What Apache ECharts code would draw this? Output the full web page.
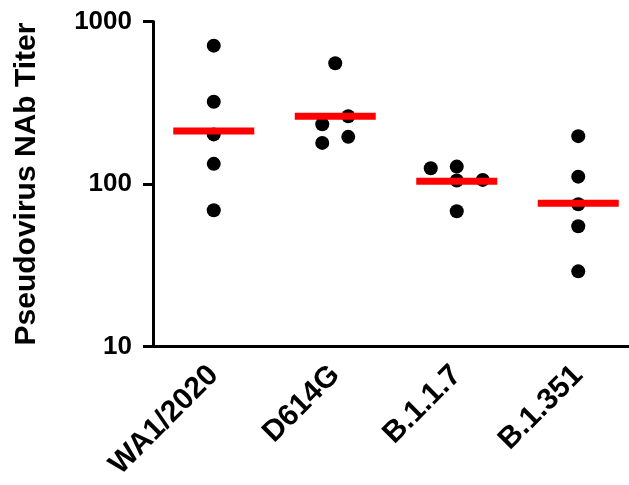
<!DOCTYPE html>
<html>
<head>
<meta charset="utf-8">
<script src="https://cdn.jsdelivr.net/npm/echarts@6/dist/echarts.min.js"></script>
<style>
  html, body { margin: 0; padding: 0; background: #fff; }
  #chart { width: 629px; height: 485px; }
</style>
</head>
<body>
<div id="chart"></div>
<script>
// data
var categories = ['WA1/2020', 'D614G', 'B.1.1.7', 'B.1.351'];
var wa1Titers = [710, 321, 202, 133, 69];
var d614gTiters = [553, 261, 233, 195, 179];
var b117Titers = [125, 128, 105, 106, 68];
var b1351Titers = [197, 111, 75, 55, 29];
var medianTiters = [212, 261, 104, 76];
var yTicks = [10, 100, 1000];

// horizontal spread of the dots inside each column (pixels)
var jitterPx = [
  [0, 0, 0, 0, 0],
  [0, 13, -13, 13, -13],
  [-26, 0, 0, 26, 0],
  [0, 0, 0, 0, 0]
];

var font = '"Liberation Sans", Arial, sans-serif';
var groups = [wa1Titers, d614gTiters, b117Titers, b1351Titers];
var points = [];
groups.forEach(function (vals, i) {
  vals.forEach(function (v, j) {
    points.push({ value: [i, v], symbolOffset: [jitterPx[i][j], 0] });
  });
});
var medians = medianTiters.map(function (v, i) { return [i, v]; });

var chart = echarts.init(document.getElementById('chart'));
chart.setOption({
  animation: false,
  grid: { left: 153, top: 21.5, height: 325, width: 486, outerBoundsMode: 'none' },
  xAxis: {
    type: 'category',
    data: categories,
    boundaryGap: true,
    axisLine: { onZero: false, lineStyle: { color: '#000', width: 3 } },
    axisTick: { alignWithLabel: true, length: 8, lineStyle: { color: '#000', width: 3 } },
    axisLabel: {
      rotate: 45, margin: 24, color: '#000', fontWeight: 'bold',
      fontSize: 30, fontFamily: font
    },
    splitLine: { show: false }
  },
  yAxis: {
    type: 'log',
    logBase: 10,
    min: yTicks[0],
    max: yTicks[yTicks.length - 1],
    name: 'Pseudovirus NAb Titer',
    nameLocation: 'middle',
    nameGap: 111,
    nameTextStyle: { color: '#000', fontWeight: 'bold', fontSize: 30, fontFamily: font },
    axisLine: { show: true, lineStyle: { color: '#000', width: 3 } },
    axisTick: { show: true, length: 10, lineStyle: { color: '#000', width: 3 } },
    axisLabel: {
      margin: 21, color: '#000', fontWeight: 'bold', fontSize: 26, fontFamily: font,
      formatter: function (v) { return String(v); }
    },
    splitLine: { show: false }
  },
  series: [
    {
      name: 'titer',
      type: 'scatter',
      symbol: 'circle',
      symbolSize: 14,
      itemStyle: { color: '#000', opacity: 1 },
      data: points,
      z: 2
    },
    {
      name: 'median',
      type: 'scatter',
      symbol: 'rect',
      symbolSize: [81, 7],
      itemStyle: { color: '#ff0000', opacity: 1 },
      data: medians,
      z: 3
    }
  ]
});
</script>
</body>
</html>
